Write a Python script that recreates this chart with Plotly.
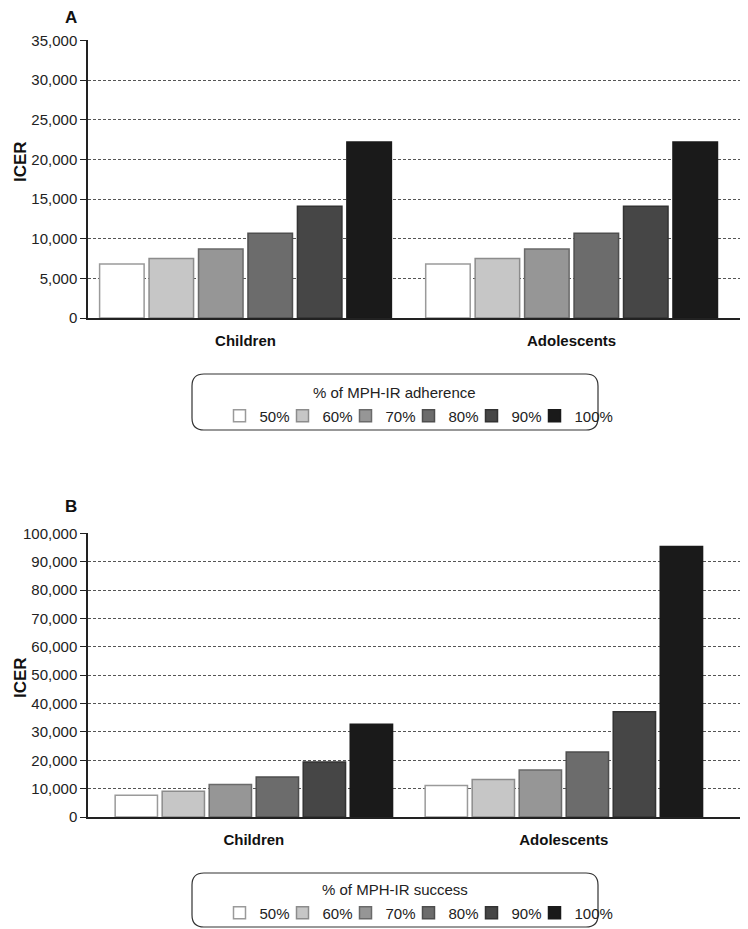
import plotly.graph_objects as go

groups = ['Children', 'Adolescents']
levels = ['50%', '60%', '70%', '80%', '90%', '100%']
adherence_children = [6800, 7500, 8700, 10700, 14100, 22200]
adherence_adolescents = [6800, 7500, 8700, 10700, 14100, 22200]
success_children = [7700, 9100, 11500, 14100, 19400, 32700]
success_adolescents = [11100, 13200, 16600, 22900, 37100, 95400]
legend_titles = ['% of MPH-IR adherence', '% of MPH-IR success']

fills = ['#ffffff', '#c6c6c6', '#969696', '#6c6c6c', '#464646', '#1a1a1a']
edges = ['#9a9a9a', '#8c8c8c', '#6a6a6a', '#4e4e4e', '#333333', '#1a1a1a']

W, H = 748, 929
OFF = 8  # page body margin: shift everything up/left so it lands where the reference has it
FONT = 'Liberation Sans, Arial, sans-serif'

fig = go.Figure()

panels = [
    ('x', 'y', 'legend', adherence_children, adherence_adolescents),
    ('x2', 'y2', 'legend2', success_children, success_adolescents),
]
for xa, ya, lg, kids, teens in panels:
    for i, lv in enumerate(levels):
        fig.add_trace(go.Bar(
            x=groups, y=[kids[i], teens[i]],
            name=lv, xaxis=xa, yaxis=ya, legend=lg,
            marker=dict(color=fills[i], line=dict(color=edges[i], width=1.5)),
        ))
    # blank legend slot so the last label isn't clipped by the fixed entry width
    fig.add_trace(go.Scatter(
        x=[None], y=[None], name=' ', mode='markers', xaxis=xa, yaxis=ya, legend=lg,
        marker=dict(color='rgba(0,0,0,0)', size=1, line=dict(width=0)), hoverinfo='skip',
    ))


def px(x):
    return (x - OFF) / W


def py(y):
    # pixel from top of the reference -> paper y
    return 1 - (y - OFF) / H


yax = dict(
    showgrid=True, gridcolor='#555555', griddash='3px,2px', gridwidth=1,
    showline=True, linecolor='#222222', linewidth=1.5,
    ticks='outside', ticklen=6, tickcolor='#222222',
    tickformat=',d', tickfont=dict(size=15, color='#222222'),
    zeroline=False, automargin=False,
)
xax = dict(
    showline=True, linecolor='#222222', linewidth=1.5,
    ticks='', tickfont=dict(size=15, color='#111111', family=FONT, weight='bold'),
    ticklabelstandoff=8, automargin=False,
)

legend_common = dict(
    orientation='h', xanchor='center', yanchor='middle',
    bgcolor='rgba(0,0,0,0)', borderwidth=0, itemwidth=30, entrywidth=18,
    font=dict(size=15, color='#222222'), traceorder='normal',
    itemclick=False, itemdoubleclick=False,
)

fig.update_layout(
    width=W, height=H,
    margin=dict(l=0, r=0, t=0, b=0),
    paper_bgcolor='white', plot_bgcolor='white',
    font=dict(family=FONT, color='#222222'),
    barmode='group', bargap=0.09, bargroupgap=0.1,
    xaxis=dict(xax, domain=[px(88), px(748)], range=[-0.483, 1.541], anchor='y'),
    yaxis=dict(yax, domain=[py(318), py(40)], range=[0, 35050], dtick=5000, anchor='x'),
    xaxis2=dict(xax, domain=[px(88), px(748)], range=[-0.535, 1.594], anchor='y2'),
    yaxis2=dict(yax, domain=[py(817), py(533)], range=[0, 100150], dtick=10000, anchor='x2'),
    legend=dict(legend_common, x=px(440), y=py(416)),
    legend2=dict(legend_common, x=px(440), y=py(913)),
    showlegend=True,
)

# legend titles
for txt, yy in zip(legend_titles, [392, 889]):
    fig.add_annotation(text=txt, x=px(395), y=py(yy), xref='paper', yref='paper',
                       xanchor='center', yanchor='middle',
                       showarrow=False, font=dict(size=15, color='#222222'))

# panel letters and y titles
for txt, yy in [('A', 18), ('B', 506)]:
    fig.add_annotation(text='<b>%s</b>' % txt, x=px(71), y=py(yy), xref='paper', yref='paper',
                       xanchor='center', yanchor='middle',
                       showarrow=False, font=dict(size=17, color='#111111'))
for yy in [162, 678]:
    fig.add_annotation(text='<b>ICER</b>', x=px(20), y=py(yy), xref='paper', yref='paper',
                       xanchor='center', yanchor='middle',
                       showarrow=False, textangle=-90, font=dict(size=17, color='#111111'))


# rounded legend frames drawn in pixels around an anchor
def rounded_box(cx, cy, w, h, r):
    x0, x1 = -w / 2, w / 2
    y0, y1 = -h / 2, h / 2
    path = (f'M {x0 + r},{y0} L {x1 - r},{y0} Q {x1},{y0} {x1},{y0 + r} '
            f'L {x1},{y1 - r} Q {x1},{y1} {x1 - r},{y1} '
            f'L {x0 + r},{y1} Q {x0},{y1} {x0},{y1 - r} '
            f'L {x0},{y0 + r} Q {x0},{y0} {x0 + r},{y0} Z')
    return dict(type='path', xref='paper', yref='paper',
                xsizemode='pixel', ysizemode='pixel',
                xanchor=px(cx), yanchor=py(cy), path=path,
                line=dict(color='#333333', width=1.2), fillcolor='rgba(0,0,0,0)')


fig.add_shape(rounded_box(395, 402, 406, 56, 12))
fig.add_shape(rounded_box(395, 900, 406, 54, 12))

fig.write_html('out.html')
